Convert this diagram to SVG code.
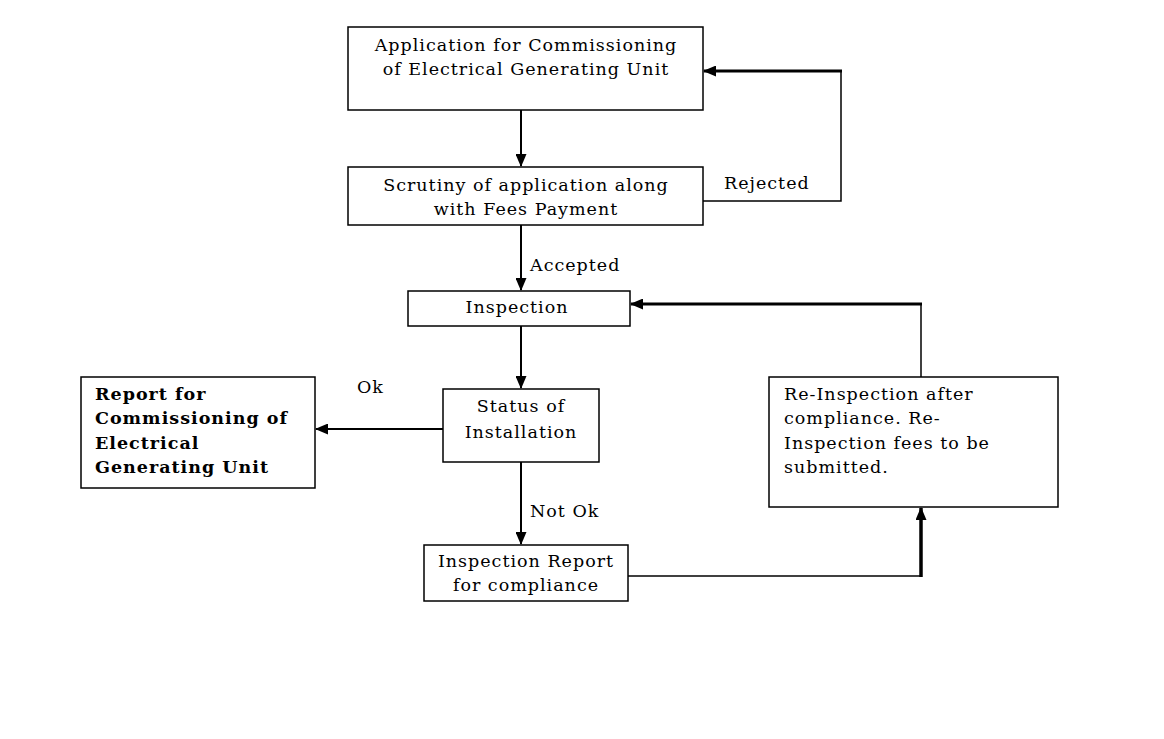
<svg xmlns="http://www.w3.org/2000/svg" width="1164" height="739" viewBox="0 0 1164 739">
<style>
.box{fill:#fff;stroke:#000;stroke-width:1.5}
.t{font-family:"DejaVu Serif","Liberation Serif",serif;font-size:17.5px;letter-spacing:1px;fill:#000}
.c{text-anchor:middle}
.b{font-weight:bold}
.ln{fill:none;stroke:#000;stroke-width:2}
.thin{fill:none;stroke:#000;stroke-width:1.5}
.thick{fill:none;stroke:#000;stroke-width:3}
.thicker{fill:none;stroke:#000;stroke-width:3.5}
</style>
<defs>
<marker id="ah" markerWidth="13" markerHeight="11" refX="12" refY="5.5" orient="auto" markerUnits="userSpaceOnUse">
<path d="M0,0 L13,5.5 L0,11 Z" fill="#000"/>
</marker>
</defs>
<rect width="1164" height="739" fill="#fff"/>
<g id="connectors">
<path class="ln" d="M521,110 V166" marker-end="url(#ah)"/>
<path class="thin" d="M703,201 H841 V71"/>
<path class="thick" d="M842,71 H704" marker-end="url(#ah)"/>
<path class="ln" d="M521,225 V290" marker-end="url(#ah)"/>
<path class="ln" d="M521,326 V388" marker-end="url(#ah)"/>
<path class="ln" d="M443,429 H316" marker-end="url(#ah)"/>
<path class="ln" d="M521,462 V544" marker-end="url(#ah)"/>
<path class="thin" d="M628,576 H921"/>
<path class="thicker" d="M921,577 V508" marker-end="url(#ah)"/>
<path class="thin" d="M921,377 V304"/>
<path class="thick" d="M922,304 H631" marker-end="url(#ah)"/>
<text class="t" x="724" y="189">Rejected</text>
<text class="t" x="530" y="271">Accepted</text>
<text class="t" x="357" y="393">Ok</text>
<text class="t" x="530" y="517">Not Ok</text>
</g>
<g id="application">
<rect class="box" x="348" y="27" width="355" height="83"/>
<text class="t c" x="526" y="51">Application for Commissioning</text>
<text class="t c" x="526" y="75">of Electrical Generating Unit</text>
</g>
<g id="scrutiny">
<rect class="box" x="348" y="167" width="355" height="58"/>
<text class="t c" x="526" y="191">Scrutiny of application along</text>
<text class="t c" x="526" y="215">with Fees Payment</text>
</g>
<g id="inspection">
<rect class="box" x="408" y="291" width="222" height="35"/>
<text class="t c" x="517" y="313">Inspection</text>
</g>
<g id="status">
<rect class="box" x="443" y="389" width="156" height="73"/>
<text class="t c" x="521" y="412">Status of</text>
<text class="t c" x="521" y="438">Installation</text>
</g>
<g id="report">
<rect class="box" x="81" y="377" width="234" height="111"/>
<text class="t b" x="95" y="400">Report for</text>
<text class="t b" x="95" y="424">Commissioning of</text>
<text class="t b" x="95" y="449">Electrical</text>
<text class="t b" x="95" y="473">Generating Unit</text>
</g>
<g id="inspection-report">
<rect class="box" x="424" y="545" width="204" height="56"/>
<text class="t c" x="526" y="567">Inspection Report</text>
<text class="t c" x="526" y="591">for compliance</text>
</g>
<g id="reinspection">
<rect class="box" x="769" y="377" width="289" height="130"/>
<text class="t" x="784" y="400">Re-Inspection after</text>
<text class="t" x="784" y="424">compliance. Re-</text>
<text class="t" x="784" y="449">Inspection fees to be</text>
<text class="t" x="784" y="473">submitted.</text>
</g>
</svg>
